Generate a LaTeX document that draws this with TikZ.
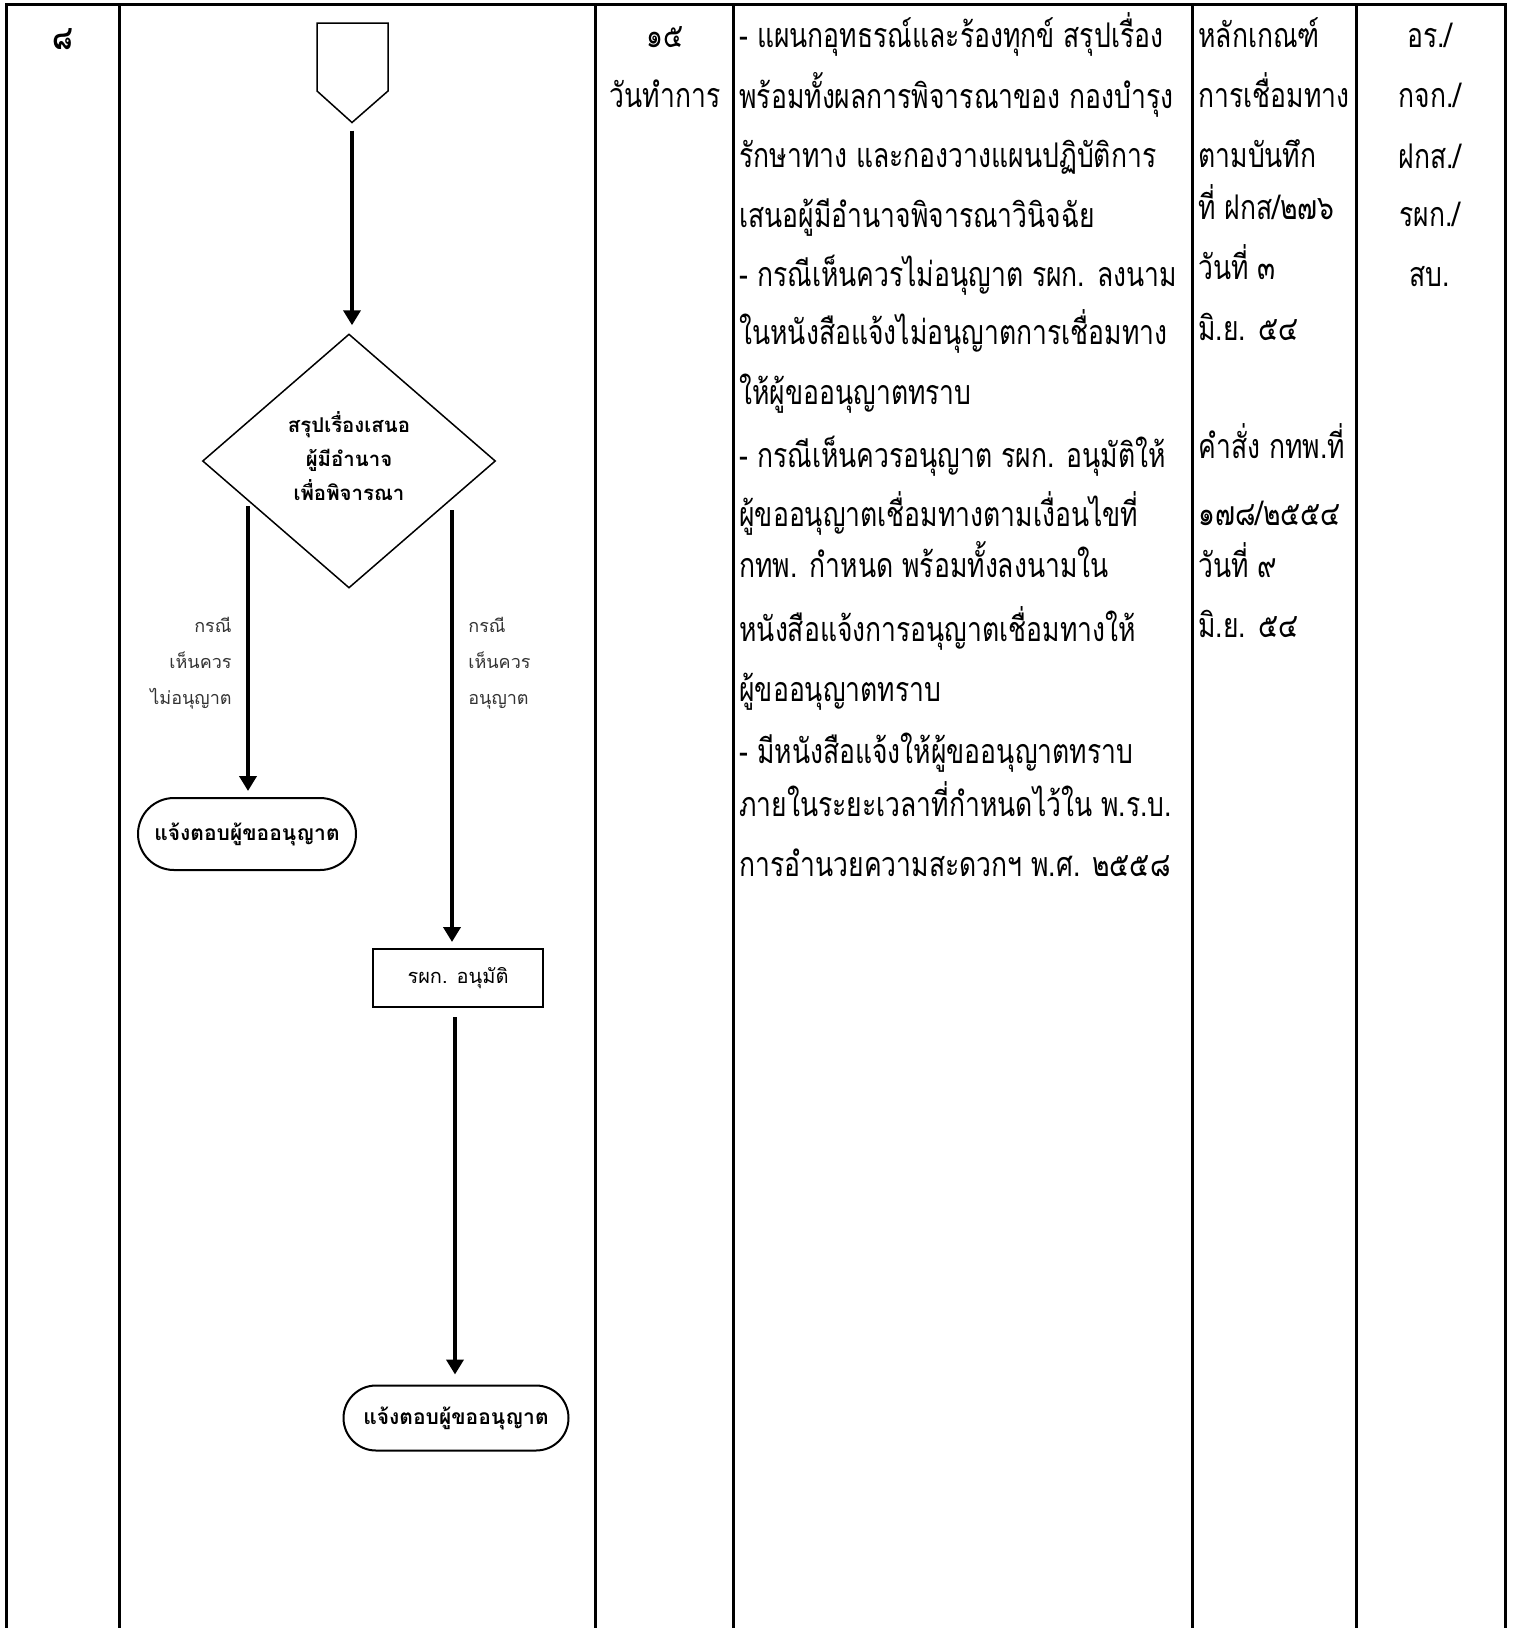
\documentclass[tikz,border=0pt]{standalone}
\usepackage{fontspec}
\newfontfamily\thbody[Script=Thai,FakeStretch=0.78]{Loma}
\newfontfamily\thnode[Script=Thai]{Loma}
\usetikzlibrary{shapes.geometric,shapes.misc,arrows.meta,calc}
\begin{document}
\begin{tikzpicture}[x=0.5pt,y=-0.5pt,
  tline/.style={line width=1.5pt},
  bodytxt/.style={anchor=base west,inner sep=0pt,font=\thbody\fontsize{17}{20}\selectfont},
  midtxt/.style={anchor=base,inner sep=0pt,font=\thbody\fontsize{17}{20}\selectfont},
  arr/.style={line width=2pt,-{Triangle[width=8.5pt,length=7.5pt]}},
  term/.style={rounded rectangle,draw,line width=1pt,inner sep=0pt,font=\thnode\bfseries\fontsize{10.5}{12}\selectfont},
  procbox/.style={rectangle,draw,line width=1pt,inner sep=0pt,font=\thnode\fontsize{10}{12}\selectfont},
  decision/.style={diamond,draw,line width=0.75pt,inner sep=0pt},
  dtext/.style={inner sep=0pt,align=center,font=\thnode\bfseries\fontsize{10.2}{17.2}\selectfont},
  lbl/.style={inner sep=0pt,text=black!80,font=\thnode\fontsize{9}{18}\selectfont}
]
\useasboundingbox (0,0) rectangle (1512,1628);
% table grid
\draw[tline] (5,4) -- (1506,4);
\foreach \xx in {6,119,595,733,1192,1356,1505} {\draw[tline] (\xx,3.3) -- (\xx,1628);}
% column 1 and 4
\node[anchor=base,inner sep=0pt,font=\thbody\bfseries\fontsize{17}{20}\selectfont] (num) at (63,49) {๘};
\node[midtxt] (d1) at (665,47) {๑๕};
\node[midtxt] (d2) at (665,107) {วันทำการ};
% column 5
\node[bodytxt] (b1) at (739,47) {- แผนกอุทธรณ์และร้องทุกข์ สรุปเรื่อง};
\node[bodytxt] (b2) at (739,108) {พร้อมทั้งผลการพิจารณาของ กองบำรุง};
\node[bodytxt] (b3) at (739,167) {รักษาทาง และกองวางแผนปฏิบัติการ};
\node[bodytxt] (b4) at (739,227.5) {เสนอผู้มีอำนาจพิจารณาวินิจฉัย};
\node[bodytxt] (b5) at (739,286) {- กรณีเห็นควรไม่อนุญาต รผก. ลงนาม};
\node[bodytxt] (b6) at (739,344) {ในหนังสือแจ้งไม่อนุญาตการเชื่อมทาง};
\node[bodytxt] (b7) at (739,404) {ให้ผู้ขออนุญาตทราบ};
\node[bodytxt] (b8) at (739,467) {- กรณีเห็นควรอนุญาต รผก. อนุมัติให้};
\node[bodytxt] (b9) at (739,526) {ผู้ขออนุญาตเชื่อมทางตามเงื่อนไขที่};
\node[bodytxt] (b10) at (739,577) {กทพ. กำหนด พร้อมทั้งลงนามใน};
\node[bodytxt] (b11) at (739,641) {หนังสือแจ้งการอนุญาตเชื่อมทางให้};
\node[bodytxt] (b12) at (739,701) {ผู้ขออนุญาตทราบ};
\node[bodytxt] (b13) at (739,763) {- มีหนังสือแจ้งให้ผู้ขออนุญาตทราบ};
\node[bodytxt] (b14) at (739,816.5) {ภายในระยะเวลาที่กำหนดไว้ใน พ.ร.บ.};
\node[bodytxt] (b15) at (739,876) {การอำนวยความสะดวกฯ พ.ศ. ๒๕๕๘};
% column 6
\node[bodytxt] (r1) at (1198,47) {หลักเกณฑ์};
\node[bodytxt] (r2) at (1198,107) {การเชื่อมทาง};
\node[bodytxt] (r3) at (1198,167) {ตามบันทึก};
\node[bodytxt] (r4) at (1198,219) {ที่ ฝกส/๒๗๖};
\node[bodytxt] (r5) at (1198,279) {วันที่ ๓};
\node[bodytxt] (r6) at (1198,340) {มิ.ย. ๕๔};
\node[bodytxt] (r7) at (1198,458) {คำสั่ง กทพ.ที่};
\node[bodytxt] (r8) at (1198,525) {๑๗๘/๒๕๕๔};
\node[bodytxt] (r9) at (1198,577) {วันที่ ๙};
\node[bodytxt] (r10) at (1198,637) {มิ.ย. ๕๔};
% column 7
\node[midtxt] (u1) at (1430,47) {อร./};
\node[midtxt] (u2) at (1430,107) {กจก./};
\node[midtxt] (u3) at (1430,168) {ฝกส./};
\node[midtxt] (u4) at (1430,226) {รผก./};
\node[midtxt] (u5) at (1430,286) {สบ.};
% flowchart
\draw[line width=0.75pt] (317,23) -- (388,23) -- (388,91) -- (352,122.5) -- (317,91) -- cycle;
\coordinate (pent) at (352,122.5);
\node[decision,minimum width=146.5pt,minimum height=127pt] (dia) at (349,461) {};
\node[dtext] (diatext) at (349,456) {สรุปเรื่องเสนอ\\ผู้มีอำนาจ\\เพื่อพิจารณา};
\draw[arr,shorten <=4pt,shorten >=4pt] (pent) -- (pent |- dia.north);
\node[term,minimum width=109pt,minimum height=36pt] (lt) at (247,834) {แจ้งตอบผู้ขออนุญาต};
\node[procbox,minimum width=85pt,minimum height=29pt] (box) at (458,978) {รผก. อนุมัติ};
\node[term,minimum width=112.5pt,minimum height=32.5pt] (bt) at (456,1418) {แจ้งตอบผู้ขออนุญาต};
\coordinate (dl) at (248,506);
\coordinate (dr) at (452,510);
\draw[arr,shorten >=3pt] (dl) -- (dl |- lt.north);
\draw[arr,shorten >=3pt] (dr) -- (dr |- box.north);
\draw[arr,shorten <=4.5pt,shorten >=5pt] (box.south -| 455,0) -- (bt.north -| 455,0);
\node[lbl,align=right,anchor=east] (ll) at (232,663) {กรณี\\เห็นควร\\ไม่อนุญาต};
\node[lbl,align=left,anchor=west] (rl) at (468,663) {กรณี\\เห็นควร\\อนุญาต};
\end{tikzpicture}
\end{document}
